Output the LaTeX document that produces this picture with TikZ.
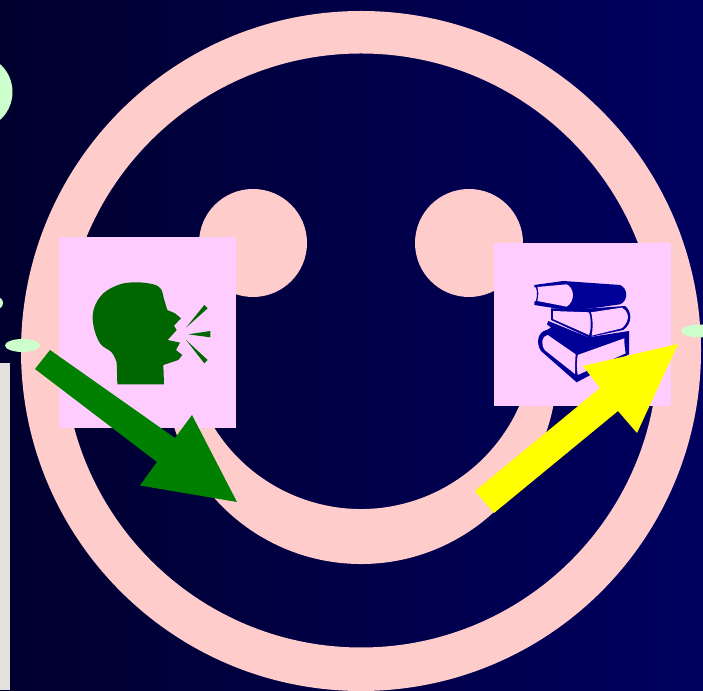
\documentclass[tikz,border=0pt]{standalone}
\usepackage{xcolor}
\usetikzlibrary{arrows.meta, positioning, calc}
\definecolor{bgleft}{HTML}{00002E}
\definecolor{bgright}{HTML}{000060}
\definecolor{ringpink}{HTML}{FFCCCC}
\definecolor{boxpink}{HTML}{FFCCFF}
\definecolor{palegreen}{HTML}{CCFFCC}
\definecolor{stripgrey}{HTML}{E4E0DE}
\definecolor{headgreen}{HTML}{006600}
\definecolor{arrowgreen}{HTML}{008000}
\definecolor{arrowyellow}{RGB}{255,255,0}
\definecolor{bookblue}{HTML}{000099}
\tikzset{
  facepart/.style={fill=ringpink},
  iconbox/.style={fill=boxpink},
  blob/.style={fill=palegreen},
  iconleft/.style={shift={(90,415)}, x=0.3333pt, y=-0.3333pt},
  iconright/.style={shift={(525,415)}, x=0.3333pt, y=-0.3333pt}
}

\begin{document}
\begin{tikzpicture}[x=1pt, y=1pt]
  \useasboundingbox (0,0) rectangle (703,690);
  \begin{scope}
    \clip (0,0) rectangle (703,690);
    \shade[left color=bgleft, right color=bgright] (0,0) rectangle (703,690);
    \fill[stripgrey] (0,0) rectangle (10,327);
    \fill[blob] (-25,598) circle (37.5);
    \fill[blob] (-3,387) circle (6);
    \fill[facepart, even odd rule] (361,339) circle (340) (361,339.5) circle (297);
    \fill[blob] (22.5,344.5) ellipse (17.5 and 6.5);
    \fill[blob] (701,359) ellipse (20 and 6.5);
    \fill[facepart] (253,447) circle (54);
    \fill[facepart] (469,447) circle (54);
    \fill[facepart] (361,322) ++(-8:196) arc[start angle=-8, end angle=-172, radius=196]
      -- ($(361,354)+(-160:173)$) arc[start angle=-160, end angle=-20, radius=173] -- cycle;
    \fill[iconbox] (59,262) rectangle (236,453);
    \fill[iconbox] (494,284) rectangle (671,447);
    \begin{scope}[iconleft]
      \fill[headgreen] (82,328) -- (80,262)
        -- plot[smooth, tension=0.6] coordinates {(80,262) (65,232) (30,205) (10,150) (12,100) (40,55) (90,28) (140,22) (190,28) (213,42) (222,72) (232,105)}
        -- (255,115) -- (273,130) -- (252,152) -- (260,165) -- (233,195) -- (270,203) -- (258,225) -- (277,240) -- (265,255) -- (220,270) -- (222,328) -- cycle;
      \fill[headgreen] (288,158) -- (343,90) -- (353,100) -- cycle;
      \fill[headgreen] (295,178) -- (361,168) -- (361,187) -- cycle;
      \fill[headgreen] (288,195) -- (353,255) -- (343,265) -- cycle;
    \end{scope}
    \begin{scope}[iconright]
      \fill[bookblue] (65,165) .. controls (38,170) and (32,205) .. (48,228) -- (155,322) -- (200,298) -- (312,238) -- (312,178) -- (312,168) -- (190,187) -- (70,138) -- (66,148) -- (78,158) -- cycle;
      \fill[boxpink] (68,180) .. controls (50,183) and (46,208) .. (60,226) -- (150,297) .. controls (150,280) and (150,260) .. (152,238) -- cycle;
      \fill[boxpink] (158,240) -- (298,190) .. controls (298,210) and (300,225) .. (302,235) -- (158,300) .. controls (155,280) and (155,260) .. (158,240) -- cycle;
      \fill[bookblue] (78,100) -- (78,135) -- (190,187) -- (295,165) .. controls (322,145) and (322,110) .. (300,93) -- (200,100) -- cycle;
      \fill[boxpink] (84,108) -- (84,132) -- (192,180) .. controls (200,160) and (198,130) .. (192,112) -- cycle;
      \fill[boxpink] (198,112) -- (290,98) .. controls (315,110) and (315,140) .. (290,160) -- (200,182) .. controls (204,160) and (204,130) .. (198,112) -- cycle;
      \fill[bookblue] (28,30) -- (115,18) -- (285,30) .. controls (310,40) and (310,78) .. (285,88) -- (200,100) -- (130,106) -- (28,90) -- (28,80) -- (33,78) .. controls (37,60) and (37,50) .. (33,38) -- (28,36) -- cycle;
      \fill[boxpink] (37,36) -- (125,28) .. controls (150,40) and (150,80) .. (125,95) -- (37,78) .. controls (41,60) and (41,50) .. (37,36) -- cycle;
    \end{scope}
    \fill[arrowgreen] (35,321) -- (50,340) -- (175,252) -- (192,275) -- (237,188) -- (140,204.5) -- (157,228) -- cycle;
    \fill[arrowyellow] (475,199) -- (600,302) -- (583,324) -- (678,346) -- (637,257) -- (618,279) -- (494,177) -- cycle;
  \end{scope}
\end{tikzpicture}
\end{document}
